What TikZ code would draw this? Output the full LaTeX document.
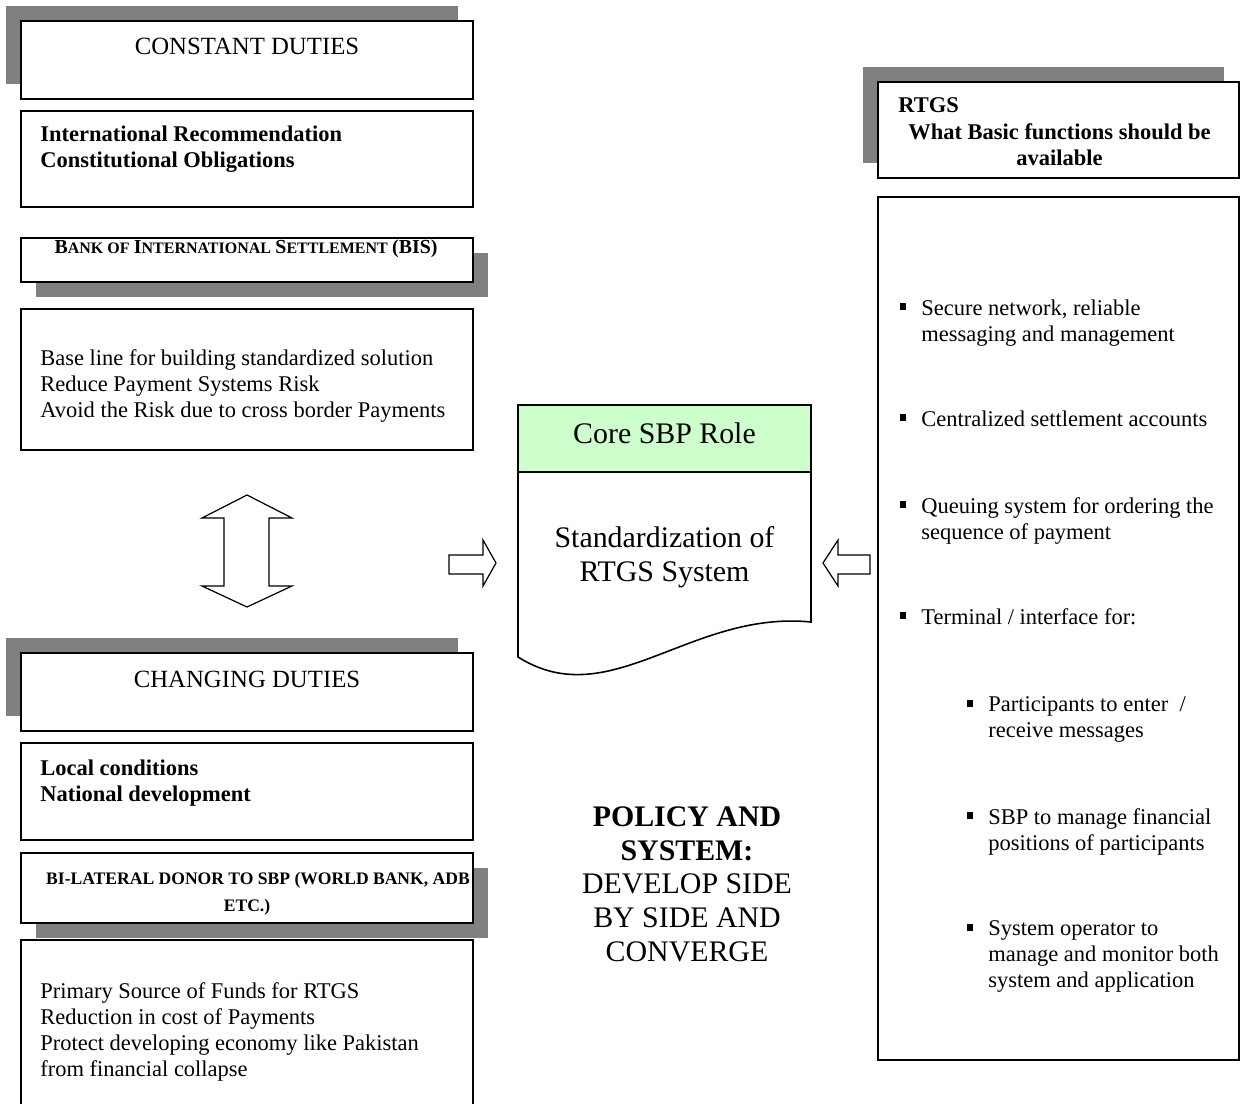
\documentclass[tikz,border=0pt]{standalone}
\usepackage{fontspec}
\setmainfont{Liberation Serif}
\usetikzlibrary{shadows,fit,positioning}
\usepackage{xcolor}
\definecolor{CoreGreen}{RGB}{204,255,204}
\definecolor{Shade}{RGB}{128,128,128}
\newcommand{\bodyfont}{\fontsize{12.8}{14.75}\selectfont}
\newcommand{\bigfont}{\fontsize{17}{19.3}\selectfont}
\newcommand{\fsc}[2]{{\fontsize{11.3}{12}\selectfont #1}{\fontsize{9.1}{10}\selectfont #2}}
\tikzset{
  dbox/.style={draw,line width=0.9pt,fill=white,inner sep=0pt},
  dboxup/.style={dbox,general shadow={fill=Shade,shadow xshift=-0.3cm,shadow yshift=0.3cm}},
  dboxdn/.style={dbox,general shadow={fill=Shade,shadow xshift=0.3cm,shadow yshift=-0.3cm}},
  btext/.style={inner sep=0pt,font=\bodyfont,align=left},
  bbold/.style={btext,font=\bodyfont\bfseries},
  htext/.style={inner sep=0pt,font=\fontsize{14.1}{16}\selectfont},
  ctext/.style={inner sep=0pt,font=\bigfont,align=center},
  sqbullet/.style={fill=black,inner sep=0pt,minimum width=0.12cm,minimum height=0.13cm},
  barrow/.style={draw,line width=0.7pt,fill=white,line join=miter},
}

\begin{document}
\begin{tikzpicture}[x=0.02cm,y=-0.02cm]
  \useasboundingbox (0,0) rectangle (1240,1104);
  \clip (0,0) rectangle (1240,1104);
  % left column: constant duties
  \node[dboxup,fit={(21,21) (473,99)}] (cdbox) {};
  \node[htext,anchor=base] (cdtitle) at (247,55) {CONSTANT DUTIES};
  \node[dbox,fit={(21,111) (473,207)}] (conbox) {};
  \node[bbold,anchor=north west] (contxt) at (40,125.6)
    {International Recommendation\\Constitutional Obligations};
  \node[dboxdn,fit={(21,238) (473,282)}] (bisbox) {};
  \node[inner sep=0pt,font=\bfseries,anchor=base] (bistitle) at (246,254)
    {\fsc{B}{ANK OF} \fsc{I}{NTERNATIONAL} \fsc{S}{ETTLEMENT} \fsc{(BIS)}{}};
  \node[dbox,fit={(21,309) (473,450)}] (bisbody) {};
  \node[btext,anchor=north west] (bistxt) at (40,349.6)
    {Base line for building standardized solution\\Reduce Payment Systems Risk\\Avoid the Risk due to cross border Payments};
  % left column: changing duties
  \node[dboxup,fit={(21,653) (473,731)}] (chbox) {};
  \node[htext,anchor=base] (chtitle) at (247,687) {CHANGING DUTIES};
  \node[dbox,fit={(21,743) (473,840)}] (locbox) {};
  \node[bbold,anchor=north west] (loctxt) at (40,759.6)
    {Local conditions\\National development};
  \node[dboxdn,fit={(21,853) (473,923)}] (donbox) {};
  \node[inner sep=0pt,font=\fontsize{10}{15.3}\selectfont\bfseries,align=center,anchor=north] (dontitle) at (247,872.4)
    {\hspace*{0.44cm}BI-LATERAL DONOR TO SBP (WORLD BANK, ADB\\ETC.)};
  \node[dbox,fit={(21,940) (473,1120)}] (donbody) {};
  \node[btext,anchor=north west] (dontxt) at (40,982.6)
    {Primary Source of Funds for RTGS\\Reduction in cost of Payments\\Protect developing economy like Pakistan\\from financial collapse};
  % block arrows
  \draw[barrow] (247,495) -- (292,518) -- (269,518) -- (269,586) -- (292,586) -- (247,607)
    -- (202,586) -- (224,586) -- (224,518) -- (202,518) -- cycle;
  \draw[barrow] (449,555) -- (483,555) -- (483,540) -- (496,563) -- (483,586) -- (483,574) -- (449,574) -- cycle;
  \draw[barrow] (870,555) -- (838,555) -- (838,540) -- (823,563) -- (838,586) -- (838,574) -- (870,574) -- cycle;
  % core role document
  \draw[line width=0.9pt,fill=white] (518,472) -- (518,657) .. controls (610,715) and (690,610) .. (811,622) -- (811,472);
  \node[draw,line width=0.9pt,fill=CoreGreen,inner sep=0pt,fit={(518,405) (811,472)}] (corehead) {};
  \node[inner sep=0pt,font=\bigfont,anchor=base] (coretitle) at (664.5,443) {Core SBP Role};
  \node[ctext,anchor=north] (coretxt) at (664.5,526.5) {Standardization of\\RTGS System};
  \node[ctext,anchor=north] (policy) at (687,806)
    {\textbf{POLICY AND}\\\textbf{SYSTEM:}\\DEVELOP SIDE\\BY SIDE AND\\CONVERGE};
  % right column
  \node[dboxup,fit={(878,82) (1239,178)}] (rtgsbox) {};
  \node[inner sep=0pt,font=\bodyfont\bfseries,anchor=base west] (rtgstitle) at (898,113) {RTGS};
  \node[bbold,align=center,anchor=north] (rtgstxt) at (1059.5,123.6)
    {What Basic functions should be\\available};
  \node[dbox,fit={(878,197) (1239,1060)}] (fnbox) {};
  \node[sqbullet] (b1) at (903,306.5) {};
  \node[btext,anchor=north west] (it1) at (921,299.6) {Secure network, reliable\\messaging and management};
  \node[sqbullet] (b2) at (903,417.5) {};
  \node[btext,anchor=north west] (it2) at (921,410.6) {Centralized settlement accounts};
  \node[sqbullet] (b3) at (903,504.5) {};
  \node[btext,anchor=north west] (it3) at (921,497.6) {Queuing system for ordering the\\sequence of payment};
  \node[sqbullet] (b4) at (903,615.5) {};
  \node[btext,anchor=north west] (it4) at (921,608.6) {Terminal / interface for:};
  \node[sqbullet] (s1) at (970,703.5) {};
  \node[btext,anchor=north west] (sub1) at (988,696.6) {Participants to enter~ /\\receive messages};
  \node[sqbullet] (s2) at (970,815.5) {};
  \node[btext,anchor=north west] (sub2) at (988,808.6) {SBP to manage financial\\positions of participants};
  \node[sqbullet] (s3) at (970,927.5) {};
  \node[btext,anchor=north west] (sub3) at (988,920.6) {System operator to\\manage and monitor both\\system and application};
\end{tikzpicture}
\end{document}
